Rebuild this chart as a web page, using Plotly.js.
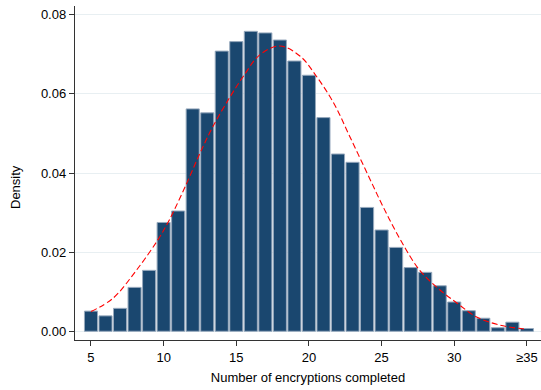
<!DOCTYPE html>
<html>
<head>
<meta charset="utf-8">
<script src="https://cdn.plot.ly/plotly-3.0.1.min.js"></script>
<style>html,body{margin:0;padding:0;background:#fff;}#chart{width:541px;height:390px;}</style>
</head>
<body>
<div id="chart"></div>
<script>
// Histogram bins (number of encryptions completed, last bin is >=35)
const bins = [5,6,7,8,9,10,11,12,13,14,15,16,17,18,19,20,21,22,23,24,25,26,27,28,29,30,31,32,33,34,35];
const density = [0.0051,0.0039,0.0058,0.0111,0.0154,0.0275,0.0304,0.0562,0.0552,0.0708,0.0732,0.0758,0.0754,0.0736,0.0683,0.0647,0.0540,0.0448,0.0427,0.0313,0.0256,0.0212,0.0161,0.0149,0.0115,0.0074,0.0052,0.0033,0.0009,0.0023,0.0007];

// Normal density curve
const curveX = [5,6.5,8.1,9.6,10.4,11.6,12.5,13.4,14.6,15.5,16.6,18.0,19.4,20.5,21.7,22.8,24.0,25.1,26.3,27.6,29.0,30.2,31.5,33.1,35];
const curveY = [0.0050,0.0083,0.0153,0.0231,0.0282,0.0375,0.0450,0.0518,0.0594,0.0645,0.0698,0.0721,0.0695,0.0645,0.0577,0.0493,0.0400,0.0315,0.0231,0.0155,0.0105,0.0071,0.0037,0.0016,0.0005];

const xTickVals = [5,10,15,20,25,30,35];
const xTickText = ['5','10','15','20','25','30','≥35'];
const yTickVals = [0,0.02,0.04,0.06,0.08];

const traces = [
  {type:'bar', x:bins, y:density, width:0.9,
   marker:{color:'#1a476f', line:{color:'#97a9bd', width:1}},
   hoverinfo:'skip'},
  {type:'scatter', mode:'lines', x:curveX, y:curveY,
   line:{color:'#ff0000', width:1.1, dash:'6px,3px', shape:'spline', smoothing:1.0},
   hoverinfo:'skip'}
];

const layout = {
  width:541, height:390,
  margin:{l:75, r:0, t:6, b:50},
  paper_bgcolor:'#fff', plot_bgcolor:'#fff',
  showlegend:false,
  font:{family:'Liberation Sans, Arial, sans-serif', size:12, color:'#000'},
  xaxis:{
    range:[3.9,35.97], tickvals:xTickVals, ticktext:xTickText,
    ticks:'outside', ticklen:5, tickcolor:'#333', tickwidth:1,
    showline:true, linecolor:'#333', linewidth:1.2,
    showgrid:false, zeroline:false,
    tickfont:{size:13},
    title:{text:'Number of encryptions completed', font:{size:13}, standoff:9}
  },
  yaxis:{
    range:[-0.0022,0.0822], tickvals:yTickVals, tickformat:'.2f',
    ticks:'outside', ticklen:5, tickcolor:'#333', tickwidth:1,
    showline:true, linecolor:'#333', linewidth:1.2,
    showgrid:true, gridcolor:'#e8eff2', gridwidth:1, zeroline:false,
    tickfont:{size:13}
  },
  annotations:[{
    text:'Density', textangle:-90, showarrow:false,
    xref:'paper', yref:'paper', x:0, y:0.5, xanchor:'center', yanchor:'middle',
    xshift:-60, yshift:-14, font:{size:13, color:'#000'}
  }]
};

Plotly.newPlot('chart', traces, layout, {displayModeBar:false, staticPlot:true});
</script>
</body>
</html>
